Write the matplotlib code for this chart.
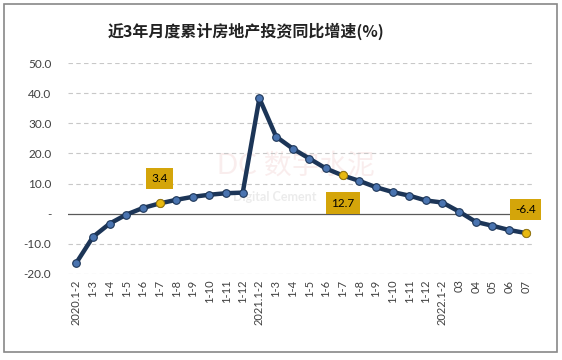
import matplotlib
matplotlib.use("Agg")
import matplotlib.pyplot as plt
from matplotlib.patches import Rectangle

plt.rcParams['font.family'] = ['Lato', 'Noto Sans CJK SC', 'DejaVu Sans']

labels = ["2020.1-2", "1-3", "1-4", "1-5", "1-6", "1-7", "1-8", "1-9", "1-10", "1-11", "1-12",
          "2021.1-2", "1-3", "1-4", "1-5", "1-6", "1-7", "1-8", "1-9", "1-10", "1-11", "1-12",
          "2022.1-2", "03", "04", "05", "06", "07"]
values = [-16.3, -7.7, -3.3, -0.3, 1.9, 3.4, 4.6, 5.6, 6.3, 6.8, 7.0,
          38.3, 25.6, 21.6, 18.3, 15.0, 12.7, 10.9, 8.8, 7.2, 6.0, 4.4,
          3.7, 0.7, -2.7, -4.0, -5.4, -6.4]
highlight = [5, 16, 27]
yticks = [-20, -10, 0, 10, 20, 30, 40, 50]

fig = plt.figure(figsize=(5.62, 3.6), dpi=100)
ax = fig.add_axes([68 / 562, 1 - 274 / 360, (534 - 68) / 562, (274 - 63) / 360])

x = list(range(len(values)))
ax.plot(x, values, color="#1c3557", linewidth=3.2, zorder=3)
ax.scatter(x, values, s=30, color="#4a74b0", edgecolor="#1c3557", linewidth=0.8, zorder=4)
hx = [x[i] for i in highlight]
hy = [values[i] for i in highlight]
ax.scatter(hx, hy, s=34, color="#e8b90f", edgecolor="#9a7a10", linewidth=0.8, zorder=5)

offsets = {5: (0, 18), 16: (0, -20), 27: (0, 17)}
for i in highlight:
    ax.annotate(f"{values[i]:.1f}", xy=(x[i], values[i]), xytext=offsets[i],
                textcoords="offset points", ha="center", va="center", fontsize=8.5,
                color="black", zorder=6,
                bbox=dict(boxstyle="square,pad=0.45", facecolor="#d4a50a", edgecolor="none"))

ax.set_xlim(-0.5, len(values) - 0.5)
ax.set_ylim(-20, 50)
ax.set_yticks(yticks)
ax.set_yticklabels(["-" if v == 0 else f"{v:.1f}" for v in yticks])
for v in yticks:
    if v == 0:
        ax.axhline(0, color="#595959", linewidth=0.9, zorder=2)
    else:
        ax.axhline(v, color="#c8c8c8", linewidth=0.8, linestyle=(0, (4, 3)), zorder=1)

ax.set_xticks(x)
ax.set_xticklabels(labels, rotation=90, fontsize=8, color="#404040")
ax.tick_params(axis="y", labelsize=8.5, labelcolor="#404040", length=0, pad=12)
ax.tick_params(axis="x", length=0, pad=4)
for s in ax.spines.values():
    s.set_visible(False)

# faint watermark
ax.text(13.2, 16, "DC 数字水泥", fontsize=20, color="#e8b0b0", alpha=0.22, ha="center",
        va="center", zorder=0)
ax.text(11.9, 5.5, "Digital Cement", fontsize=9, color="#c0c0c0", alpha=0.3, ha="center",
        va="center", fontweight="bold", zorder=0)

fig.text(246 / 562, 1 - 31 / 360, "近3年月度累计房地产投资同比增速(%)", ha="center", va="center",
         fontsize=11.5, fontweight="bold", color="#222222",
         family=["Noto Sans CJK SC", "DejaVu Sans"])

fig.patches.append(Rectangle((4 / 562, 1 - 352 / 360), 553 / 562, 348 / 360,
                             transform=fig.transFigure, fill=False,
                             edgecolor="#888888", linewidth=1.2))

fig.savefig("out.png", dpi=100)
